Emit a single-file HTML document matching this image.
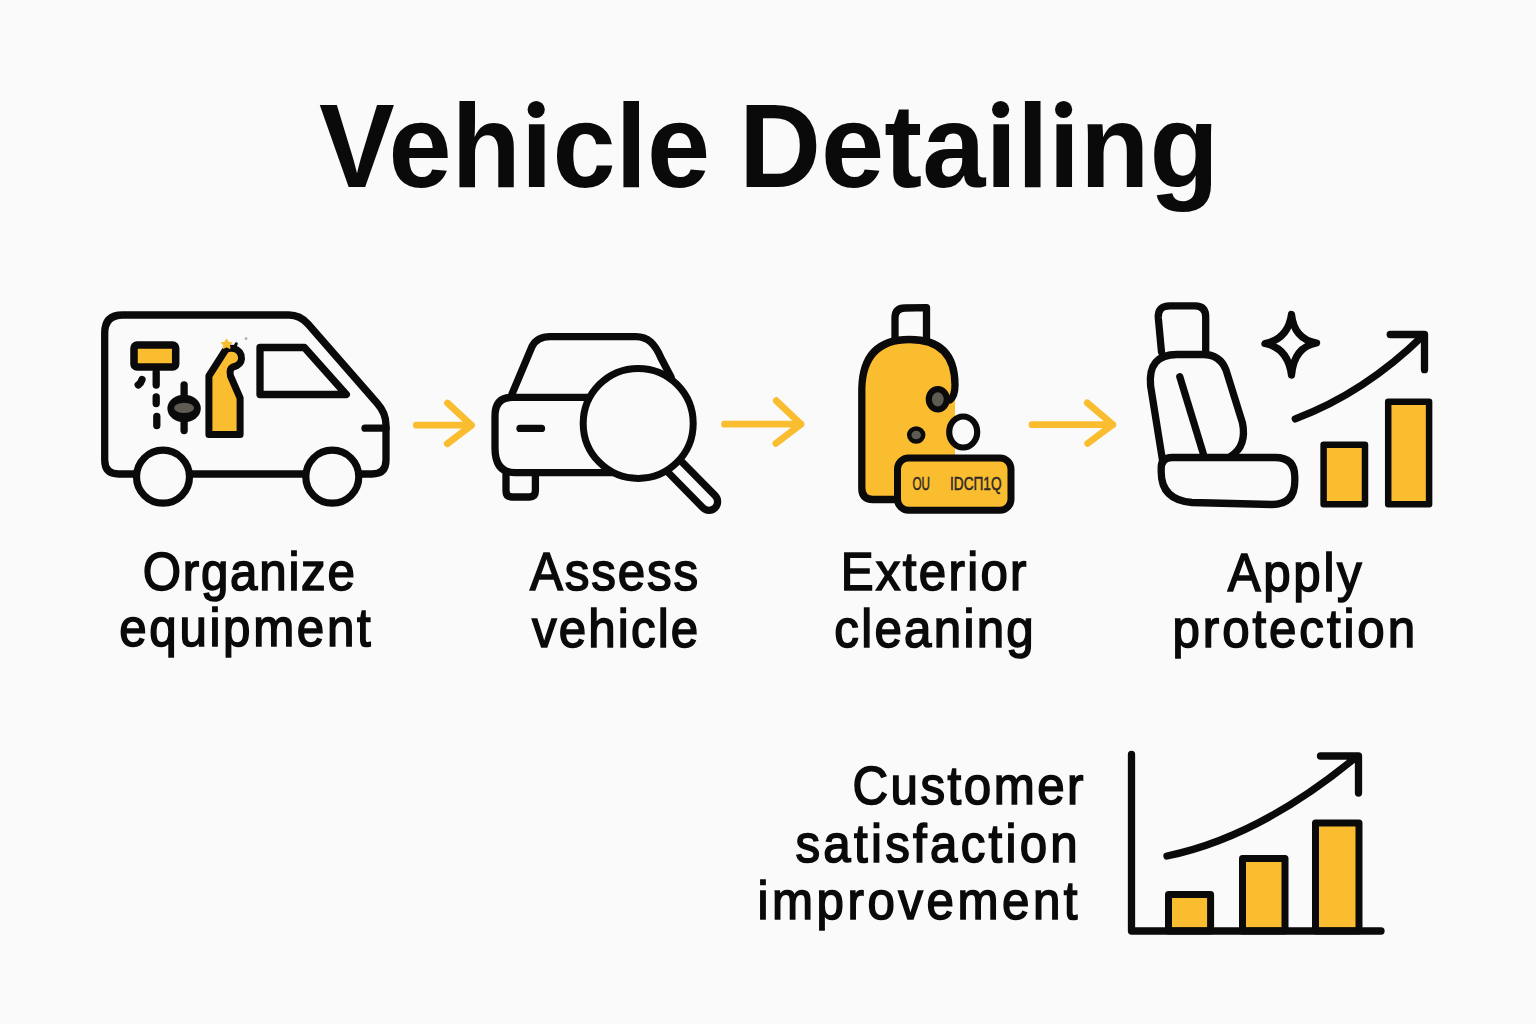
<!DOCTYPE html>
<html><head><meta charset="utf-8"><title>Vehicle Detailing</title>
<style>
html,body{margin:0;padding:0;background:#fafafa;width:1536px;height:1024px;overflow:hidden}
svg{position:absolute;left:0;top:0}
.t{font-family:"Liberation Sans",sans-serif;fill:#0a0a0a}
.lb{font-size:53px;stroke:#0a0a0a;stroke-width:1.6px}
.ttl{font-size:118px;font-weight:bold}
.k{fill:none;stroke:#0a0a0a;stroke-width:7.3;stroke-linecap:round;stroke-linejoin:round}
.y{fill:#fbbd30}
.ar{fill:none;stroke:#fbbd30;stroke-width:6.8;stroke-linecap:round;stroke-linejoin:round}
</style></head>
<body>
<svg width="1536" height="1024" viewBox="0 0 1536 1024">
<!-- Title -->
<text class="t ttl" x="319.0" y="187.4" textLength="391.2" lengthAdjust="spacingAndGlyphs">Vehicle</text>
<text class="t ttl" x="739.0" y="187.4" textLength="480.0" lengthAdjust="spacingAndGlyphs">Detailing</text>
<rect x="527" y="99" width="18" height="15" fill="#fafafa"/>
<rect x="991" y="99" width="19" height="15" fill="#fafafa"/>
<rect x="1054" y="99" width="19" height="15" fill="#fafafa"/>
<circle cx="536.2" cy="109.5" r="8.6" fill="#0a0a0a"/>
<circle cx="1000.6" cy="109.5" r="8.6" fill="#0a0a0a"/>
<circle cx="1063.6" cy="109.5" r="8.6" fill="#0a0a0a"/>

<!-- Labels -->
<text class="t lb" transform="translate(142.70,589.6) scale(0.93,1)" x="0" y="0" textLength="228.17" lengthAdjust="spacing">Organize</text>
<text class="t lb" transform="translate(119.30,646.3) scale(0.93,1)" x="0" y="0" textLength="270.32" lengthAdjust="spacing">equipment</text>
<text class="t lb" transform="translate(530.10,590.1) scale(0.93,1)" x="0" y="0" textLength="180.65" lengthAdjust="spacing">Assess</text>
<text class="t lb" transform="translate(532.10,646.6) scale(0.93,1)" x="0" y="0" textLength="178.49" lengthAdjust="spacing">vehicle</text>
<text class="t lb" transform="translate(840.70,590.4) scale(0.93,1)" x="0" y="0" textLength="199.78" lengthAdjust="spacing">Exterior</text>
<text class="t lb" transform="translate(834.30,647.1) scale(0.93,1)" x="0" y="0" textLength="214.41" lengthAdjust="spacing">cleaning</text>
<text class="t lb" transform="translate(1227.70,590.6) scale(0.93,1)" x="0" y="0" textLength="144.09" lengthAdjust="spacing">Apply</text>
<text class="t lb" transform="translate(1172.50,647.2) scale(0.93,1)" x="0" y="0" textLength="260.86" lengthAdjust="spacing">protection</text>
<text class="t lb" transform="translate(852.50,804.3) scale(0.93,1)" x="0" y="0" textLength="248.39" lengthAdjust="spacing">Customer</text>
<text class="t lb" transform="translate(795.50,862.3) scale(0.93,1)" x="0" y="0" textLength="303.44" lengthAdjust="spacing">satisfaction</text>
<text class="t lb" transform="translate(757.50,919.4) scale(0.93,1)" x="0" y="0" textLength="344.09" lengthAdjust="spacing">improvement</text>

<!-- Arrows -->
<path class="ar" d="M416.3,425.2 H471.5 M447.5,403 L471.5,425.2 L447.3,443.7"/>
<path class="ar" d="M724.5,424.2 H801 M776.3,400.7 L801,424.2 L775.9,443.4"/>
<path class="ar" d="M1032,424.7 H1112.8 M1087.3,402.9 L1112.8,424.5 L1087.7,443.4"/>

<!-- Van -->
<g id="van">
<path class="k" d="M104.7,333 Q104.7,315 122.7,315 H289 Q300,315 308,324 L377,403 Q386,413 386,425 V460 Q386,474 372,474 H118.7 Q104.7,474 104.7,460 Z"/>
<path class="k" d="M260,347.5 H304.4 L346.3,394.5 H260 Z"/>
<path class="k" d="M365,428.2 H386"/>
<circle cx="163" cy="476.7" r="26.5" fill="#fafafa" stroke="#0a0a0a" stroke-width="7.2"/>
<circle cx="332.3" cy="476.7" r="26.5" fill="#fafafa" stroke="#0a0a0a" stroke-width="7.2"/>
<rect x="134" y="345" width="41.7" height="22" rx="3" class="y" stroke="#0a0a0a" stroke-width="7.5"/>
<path class="k" stroke-width="6.4" d="M156.2,372 V385 M156.2,397 V403.5 M156.8,416.5 V425.5"/>
<path class="k" stroke-width="4" d="M142,379.6 Q141,383 138.2,385"/>
<path class="k" stroke-width="8.6" d="M184.1,385 V430.5"/>
<ellipse cx="184.1" cy="408.5" rx="16.7" ry="13.8" fill="#0a0a0a"/>
<ellipse cx="184.1" cy="407.9" rx="10" ry="5.2" fill="#605b52"/>
<path class="y" stroke="#0a0a0a" stroke-width="7" stroke-linejoin="round" d="M208.9,434.5 V376 L225.5,350 Q229,347.5 234,348.5 Q242,351 241.5,359 Q241,365 233,367 Q229,369 230.5,376 L240.1,398 V434.5 Z"/>
<path d="M233.5,349 L236.3,343.8" stroke="#0a0a0a" stroke-width="3" stroke-linecap="round"/>
<path d="M226.6,339.5 l1.6,2.9 3.3,.4 -2.3,2.2 .6,3.2 -3.2,-1.6 -3.2,1.6 .6,-3.2 -2.3,-2.2 3.3,-.4Z" fill="#fbbd30" stroke="#fbbd30" stroke-width="1.5" stroke-linejoin="round"/>
<circle cx="246" cy="338.5" r="1.5" fill="#b8b4ac"/>
</g>

<!-- Car + magnifier -->
<g id="car">
<path class="k" d="M512,394 L532,346.5 Q537,336.6 550,336.6 H636 C648,336.6 655,344 661,358 L671,377"/>
<path class="k" d="M512,397.4 H600 M515,472.7 H620 M512,397.4 Q495,397.4 495,416 V448 Q495,472.7 515,472.7"/>
<path class="k" d="M520,428.4 H541.5"/>
<path class="k" d="M506,474 V491 Q506,497 512,497 H529.4 Q535.4,497 535.4,491 V474"/>
<path d="M672,464 L709,501.7" stroke="#0a0a0a" stroke-width="24.5" stroke-linecap="round"/>
<path d="M666,458 L709,501.7" stroke="#fafafa" stroke-width="10" stroke-linecap="round"/>
<circle cx="638.2" cy="423.4" r="55" fill="#fafafa" stroke="#0a0a0a" stroke-width="7"/>
</g>

<!-- Bottle -->
<g id="bottle">
<path class="k" d="M895,338 V318 Q895,308 905,308 L926.5,307.6 V338"/>
<path class="y" d="M861.8,389 Q862.7,339.5 909.5,339.5 Q955,339.5 955,385 L955,400 V470 H900 V499.5 H873 Q861.8,499.5 861.8,488 Z"/>
<path class="k" d="M898,499.5 H873 Q861.8,499.5 861.8,488 V389 Q862.7,339.5 909.5,339.5 Q955,339.5 955,385 Q955,396 950,400"/>
<ellipse cx="937.8" cy="399.3" rx="9" ry="10.2" fill="#605b52" stroke="#0a0a0a" stroke-width="6.2"/>
<ellipse cx="916.2" cy="435" rx="7" ry="6.6" fill="#605b52" stroke="#0a0a0a" stroke-width="4.5"/>
<ellipse cx="963.2" cy="432" rx="14" ry="15.5" fill="#fafafa" stroke="#0a0a0a" stroke-width="6.2"/>
<rect x="897.5" y="458" width="113.5" height="52.3" rx="11" class="y" stroke="#0a0a0a" stroke-width="7"/>
<text x="912.5" y="490.3" font-family="Liberation Sans" font-size="19" fill="#2a2824" stroke="#2a2824" stroke-width="0.5" textLength="17.5" lengthAdjust="spacingAndGlyphs">OU</text>
<text x="950" y="490.3" font-family="Liberation Sans" font-size="19" fill="#2a2824" stroke="#2a2824" stroke-width="0.5" textLength="51.6" lengthAdjust="spacingAndGlyphs">IDCП1Q</text>
</g>

<!-- Seat + chart -->
<g id="seat">
<path class="k" d="M1161.5,352 L1158.3,318 Q1157.5,305.8 1170,305.8 H1195 Q1205.7,305.8 1205.7,317 V352"/>
<path class="k" d="M1162.8,462 L1150.6,386 Q1147.5,354.5 1177,354.5 H1203 Q1220,354.5 1226,370 L1242.5,423 Q1247,446 1231,456"/>
<path class="k" d="M1179.8,376.7 L1203.4,454"/>
<path class="k" d="M1172,457.5 H1275 Q1294.8,457.5 1294.8,477 V481 Q1294.8,504.5 1272,504.5 L1192,502.5 Q1161.2,500 1161.2,472 V468 Q1161.2,457.5 1172,457.5 Z"/>
<path class="k" stroke-width="8.2" d="M1291.5,314.5 Q1294,339 1316.5,343 Q1294,347 1291.5,375 Q1288,348 1265,343.5 Q1288,339 1291.5,314.5 Z"/>
<path class="k" d="M1295.3,418.9 Q1364.4,393 1423,335.7 M1390.2,334.5 H1424.5 V369.7"/>
<rect x="1323.6" y="444.7" width="41.4" height="59.6" class="y" stroke="#0a0a0a" stroke-width="6.5" stroke-linejoin="round"/>
<rect x="1388.2" y="401.7" width="40.9" height="102.6" class="y" stroke="#0a0a0a" stroke-width="6.5" stroke-linejoin="round"/>
</g>

<!-- Chart -->
<g id="chart">
<rect x="1168.5" y="894.5" width="42.1" height="36.5" class="y" stroke="#0a0a0a" stroke-width="7" stroke-linejoin="round"/>
<rect x="1242.5" y="858.5" width="42.5" height="72.5" class="y" stroke="#0a0a0a" stroke-width="7" stroke-linejoin="round"/>
<rect x="1315.5" y="823" width="43.5" height="108" class="y" stroke="#0a0a0a" stroke-width="7" stroke-linejoin="round"/>
<path class="k" d="M1131.5,754.5 V931 H1381"/>
<path class="k" d="M1167,856 Q1259,837 1355,758 M1320.5,756 H1358.5 V793"/>
</g>
</svg>
</body></html>
